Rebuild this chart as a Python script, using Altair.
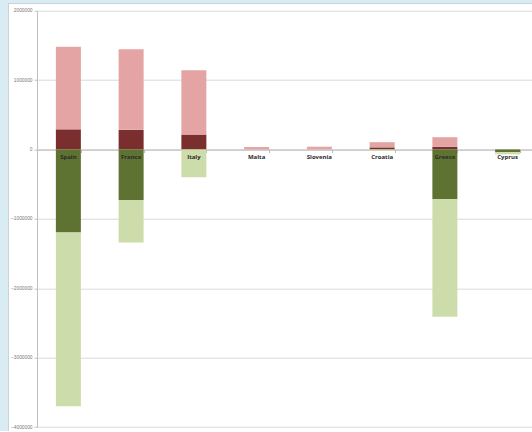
import altair as alt
import pandas as pd

countries = ["Spain", "France", "Italy", "Malta", "Slovenia", "Croatia", "Greece", "Cyprus"]
dark_red = [290000, 283000, 215000, 0, 0, 30000, 40000, 0]
pink = [1190000, 1162000, 928000, 35000, 40000, 75000, 137000, 0]
dark_green = [-1195000, -727000, 0, 0, 0, 0, -717000, -40000]
light_green = [-2505000, -613000, -400000, 0, 0, -20000, -1693000, -30000]
y_ticks = [2000000, 1000000, 0, -1000000, -2000000, -3000000, -4000000]

series = [("s1", dark_red, 1), ("s2", pink, 2), ("s3", dark_green, 3), ("s4", light_green, 4)]
rows = []
for name, vals, o in series:
    for c, v in zip(countries, vals):
        rows.append({"country": c, "series": name, "value": v, "ord": o})
df = pd.DataFrame(rows)
lab = pd.DataFrame({"country": countries, "zero": [0] * len(countries)})

W, H = 495, 416.3
xscale = alt.Scale(domain=countries, range=[0, 502], paddingInner=0.6, paddingOuter=0.3)
yscale = alt.Scale(domain=[-4000000, 2000000], nice=False)

bars = alt.Chart(df).mark_bar(size=25).encode(
    x=alt.X("country:N", scale=xscale, sort=countries,
            axis=alt.Axis(title=None, labels=False, offset=-277.5, domainColor="#b8b8b8",
                          tickColor="#b8b8b8", tickSize=3, tickBand="extent", grid=False)),
    y=alt.Y("value:Q", scale=yscale, stack="zero",
            axis=alt.Axis(title=None, values=y_ticks, format="d", labelFontSize=4.8,
                          labelColor="#777777", labelFont="Liberation Sans", tickSize=3,
                          tickColor="#c0c0c0", domainColor="#c0c0c0", gridColor="#d9d9d9",
                          labelPadding=2)),
    color=alt.Color("series:N", legend=None,
                    scale=alt.Scale(domain=["s1", "s2", "s3", "s4"],
                                    range=["#7a2e2e", "#e5a4a4", "#5e7232", "#cddcab"])),
    order=alt.Order("ord:Q"),
)

labels = alt.Chart(lab).mark_text(fontSize=6, fontWeight="bold", font="Open Sans",
                                  color="#2a2a2a", dy=8).encode(
    x=alt.X("country:N", scale=xscale, sort=countries),
    y=alt.Y("zero:Q", scale=yscale),
    text="country:N",
)

strip_left = alt.Chart(lab).mark_rect(color="#d9ebf3").encode(
    x=alt.value(-37), x2=alt.value(-29), y=alt.value(-10.7), y2=alt.value(430))
strip_top = alt.Chart(lab).mark_rect(color="#d9ebf3").encode(
    x=alt.value(-37), x2=alt.value(500), y=alt.value(-10.7), y2=alt.value(-7.7))
border_l = alt.Chart(lab).mark_rule(color="#c9d3d8", strokeWidth=1).encode(
    x=alt.value(-28.5), y=alt.value(-7.2), y2=alt.value(430))
border_t = alt.Chart(lab).mark_rule(color="#c9d3d8", strokeWidth=1).encode(
    x=alt.value(-28.5), x2=alt.value(500), y=alt.value(-7.2))

chart = alt.layer(bars, labels, strip_left, strip_top, border_l, border_t).properties(
    width=W, height=H,
    autosize=alt.AutoSizeParams(type="none"),
    padding={"left": 37, "top": 10.7, "right": 0, "bottom": 4},
    background="white",
).configure_view(strokeWidth=0)

chart.save("out.html", embed_options={"renderer": "svg", "actions": False})
